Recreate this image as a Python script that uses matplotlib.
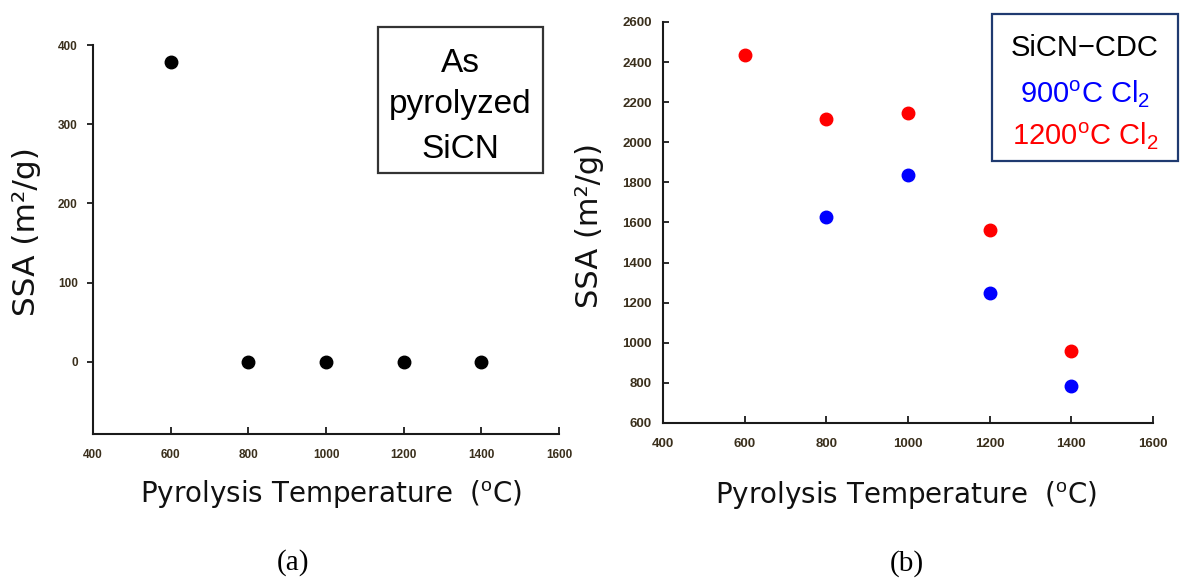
import matplotlib
matplotlib.use("Agg")
import matplotlib.pyplot as plt
from matplotlib.patches import Rectangle

plt.rcParams["mathtext.fontset"] = "custom"
plt.rcParams["mathtext.rm"] = "Liberation Sans"
plt.rcParams["mathtext.it"] = "Liberation Sans:italic"

# (a) as-pyrolyzed SiCN
temp_a = [600, 800, 1000, 1200, 1400]
ssa_a = [378, 0, 0, 0, 0]

# (b) SiCN-CDC after chlorination
temp_b = [800, 1000, 1200, 1400]
ssa_900 = [1625, 1838, 1248, 786]
temp_b_1200 = [600, 800, 1000, 1200, 1400]
ssa_1200 = [2435, 2115, 2145, 1562, 960]

xticks = [400, 600, 800, 1000, 1200, 1400, 1600]
yticks_a = [0, 100, 200, 300, 400]
yticks_b = [600, 800, 1000, 1200, 1400, 1600, 1800, 2000, 2200, 2400, 2600]

W, H = 1187, 580
fig = plt.figure(figsize=(W / 100, H / 100), dpi=100)


def px_axes(x0, y0, x1, y1):
    return fig.add_axes([x0 / W, 1 - y1 / H, (x1 - x0) / W, (y1 - y0) / H])


axl_font = dict(family="DejaVu Sans", size=20, color="#111111")
tick_color = "#3a2f1c"
spine_c = "#1a1a1a"


def style(ax, ydir, tsize):
    for s in ("top", "right"):
        ax.spines[s].set_visible(False)
    for s in ("left", "bottom"):
        ax.spines[s].set_linewidth(1.5)
        ax.spines[s].set_color(spine_c)
    ax.tick_params(axis="x", direction="in", length=5, width=1.3, color=spine_c,
                   pad=11, labelcolor=tick_color)
    ax.tick_params(axis="y", direction=ydir, length=4, width=1.3, color=spine_c,
                   pad=8 if ydir == "in" else 7, labelcolor=tick_color)
    for lab in ax.get_xticklabels() + ax.get_yticklabels():
        lab.set_fontfamily("Liberation Sans")
        lab.set_fontweight("bold")
        lab.set_fontsize(tsize)


# ---- panel (a)
ax1 = px_axes(93, 45, 559, 434)
ax1.plot(temp_a, ssa_a, "o", color="black", markersize=9, linestyle="none")
ax1.set_xlim(400, 1600)
ax1.set_ylim(-91, 400)
ax1.set_xticks(xticks)
ax1.set_yticks(yticks_a)
style(ax1, "out", 8.5)
ax1.set_xlabel("Pyrolysis Temperature  ($^{\\mathrm{o}}$C)", **axl_font)
ax1.xaxis.set_label_coords((331 - 93) / 466, (434 - 494) / 389)
ax1.xaxis.label.set_va("center")
ax1.set_ylabel("SSA (m²/g)", family="DejaVu Sans", size=22.5, color="#111111")
ax1.yaxis.set_label_coords((27 - 93) / 466, (434 - 232) / 389)
ax1.yaxis.label.set_va("center")

# ---- panel (b)
ax2 = px_axes(663, 22, 1153, 423)
ax2.plot(temp_b, ssa_900, "o", color="#0000ff", markersize=9, linestyle="none")
ax2.plot(temp_b_1200, ssa_1200, "o", color="#ff0000", markersize=9, linestyle="none")
ax2.set_xlim(400, 1600)
ax2.set_ylim(600, 2600)
ax2.set_xticks(xticks)
ax2.set_yticks(yticks_b)
style(ax2, "in", 9.5)
ax2.set_xlabel("Pyrolysis Temperature  ($^{\\mathrm{o}}$C)", **axl_font)
ax2.xaxis.set_label_coords((906 - 663) / 490, (423 - 495) / 401)
ax2.xaxis.label.set_va("center")
ax2.set_ylabel("SSA (m²/g)", family="DejaVu Sans", size=22, color="#111111")
ax2.yaxis.set_label_coords((589 - 663) / 490, (423 - 225) / 401)
ax2.yaxis.label.set_va("center")


def fig_rect(x0, y0, x1, y1, color):
    fig.add_artist(Rectangle((x0 / W, 1 - y1 / H), (x1 - x0) / W, (y1 - y0) / H,
                             transform=fig.transFigure, fill=False,
                             edgecolor=color, linewidth=1.6))


def fig_line(x, y_base, s, color, size, family="Liberation Sans"):
    fig.text(x / W, 1 - y_base / H, s, ha="center", va="baseline",
             color=color, fontsize=size, family=family)


# label box of panel (a)
fig_rect(378, 27, 543, 173, "#333333")
for txt, yb in zip(["As", "pyrolyzed", "SiCN"], [72, 113, 158]):
    fig_line(460, yb, txt, "black", 24)

# label box of panel (b)
fig_rect(992, 14, 1178, 161, "#1f3a70")
fig_line(1085, 56, "SiCN\u2212CDC", "black", 21)
fig_line(1085, 103, "900$^{\\mathrm{o}}$C Cl$_2$", "#0000ff", 21)
fig_line(1085, 145, "1200$^{\\mathrm{o}}$C Cl$_2$", "#ff0000", 21)

# panel captions
fig.text(293 / W, 1 - 563 / H, "(a)", ha="center", va="center",
         family="Liberation Serif", fontsize=21, color="black")
fig.text(907 / W, 1 - 564 / H, "(b)", ha="center", va="center",
         family="Liberation Serif", fontsize=21, color="black")

fig.savefig("out.png", dpi=100)
